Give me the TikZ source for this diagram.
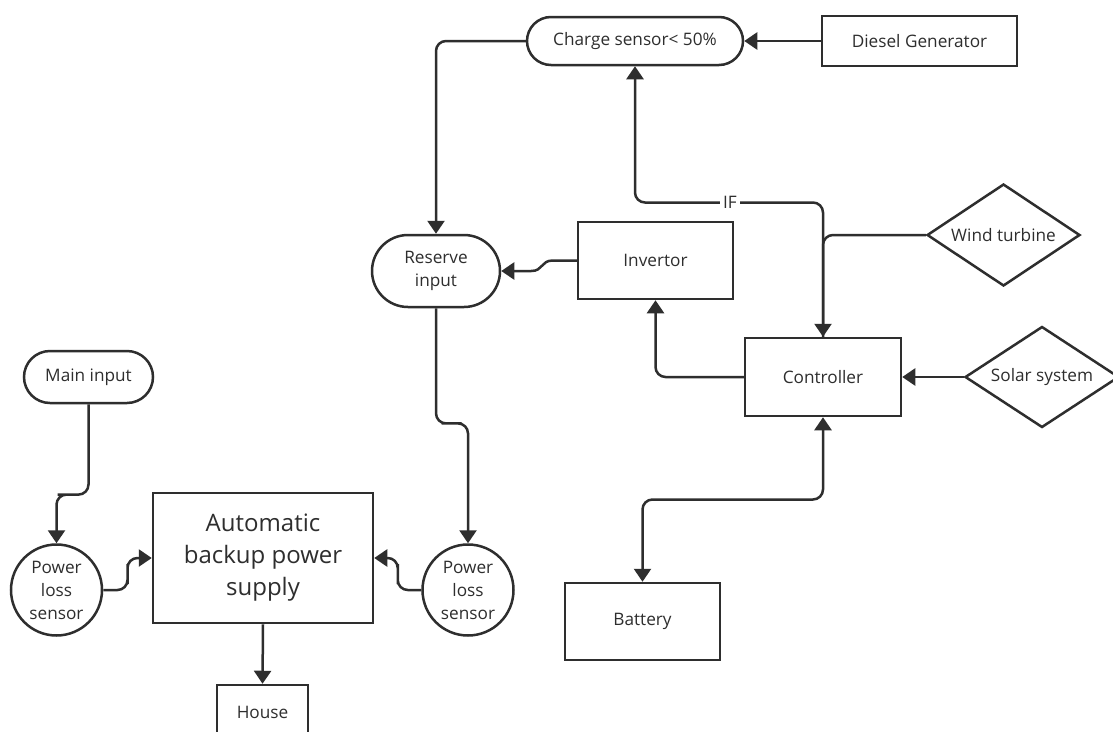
\documentclass[tikz,border=0pt]{standalone}
\usepackage{fontspec}
\setmainfont{Open Sans}
\usetikzlibrary{arrows.meta,shapes.geometric,calc}
\definecolor{ink}{HTML}{2E2E2E}
\begin{document}
\begin{tikzpicture}[x=1pt,y=-1pt,
  shapebase/.style={draw=ink, line width=2.5pt, text=ink, align=center, inner sep=0pt,
    font=\fontsize{17.2}{23}\selectfont},
  box/.style={shapebase, rectangle},
  pill/.style={shapebase, rectangle},
  circ/.style={shapebase, circle},
  diam/.style={shapebase, diamond, shape aspect=1.5},
  bigtext/.style={font=\fontsize{24}{32}\selectfont},
  tip/.tip={Triangle[width=17pt,length=13pt]},
  conn/.style={draw=ink, line width=2.5pt, rounded corners=10pt, -tip},
  lbl/.style={text=ink, fill=white, inner sep=3pt, font=\fontsize{17.2}{20}\selectfont}
]
\path[use as bounding box, clip] (0,0) rectangle (1113,731);
\fill[white] (0,0) rectangle (1113,731);

% ---- upper part: energy sources and control ----
\node[pill, minimum width=216, minimum height=48, rounded corners=24pt] (charge) at (635,41) {Charge sensor< 50\%};
\node[box, minimum width=195, minimum height=50] (diesel) at (919.5,41) {Diesel Generator};
\node[pill, minimum width=128, minimum height=72, rounded corners=36pt] (res) at (436,271) {Reserve\\input};
\node[box, minimum width=155, minimum height=77] (inv) at (655.5,260.5) {Invertor};
\node[diam, minimum width=153, minimum height=102] (wind) at (1003.5,235) {Wind turbine};
\node[box, minimum width=156, minimum height=78] (ctrl) at (823,377) {Controller};
\node[diam, minimum width=154, minimum height=101] (solar) at (1042,377) {Solar system};
\node[box, minimum width=155, minimum height=77] (bat) at (642.5,621.5) {Battery};

% ---- lower part: supply to the house ----
\node[pill, minimum width=129, minimum height=52, rounded corners=26pt] (main) at (88.5,377) {Main input};
\node[circ, minimum size=91] (pls1) at (56.5,590) {Power\\loss\\sensor};
\node[circ, minimum size=91] (pls2) at (468,590) {Power\\loss\\sensor};
\node[box, bigtext, minimum width=220, minimum height=130] (abps) at (263,558) {Automatic\\backup power\\supply};
\node[box, minimum width=91, minimum height=55] (house) at (262.5,712.5) {House};

\coordinate (ifpt) at (730,202.5);

% ---- connectors ----
\draw[conn] (diesel.west) -- (charge.east);
\draw[conn] (charge.west) -| (res.north);
\draw[conn] (ctrl.north) |- (ifpt) -| (charge.south);
\node[lbl] at (ifpt) {IF};
\draw[conn] (wind.west) -| (ctrl.north);
\draw[conn] (ctrl.west) -| (inv.south);
\draw[conn] (solar.west) -- (ctrl.east);
\draw[conn, tip-tip] (ctrl.south) |- ($(ctrl.south)!0.5!(bat.north)$) -| (bat.north);
\draw[conn, sharp corners] (inv.west) -- ++(-24,0) .. controls +(-12,0) and +(12,0) .. ($(res.east)+(30,0)$) -- (res.east);
\draw[conn] (res.south) |- ($(res.south)!0.49!(pls2.north)$) -| (pls2.north);
\draw[conn] (main.south) |- ($(main.south)!0.65!(pls1.north)$) -| (pls1.north);
\draw[conn, rounded corners=10pt] (pls1.east) -| ($(pls1.east)!0.5!(abps.west)$) |- (abps.west);
\draw[conn, rounded corners=10pt] (pls2.west) -| ($(pls2.west)!0.5!(abps.east)$) |- (abps.east);
\draw[conn] (abps.south) -- (house.north);
\end{tikzpicture}
\end{document}
